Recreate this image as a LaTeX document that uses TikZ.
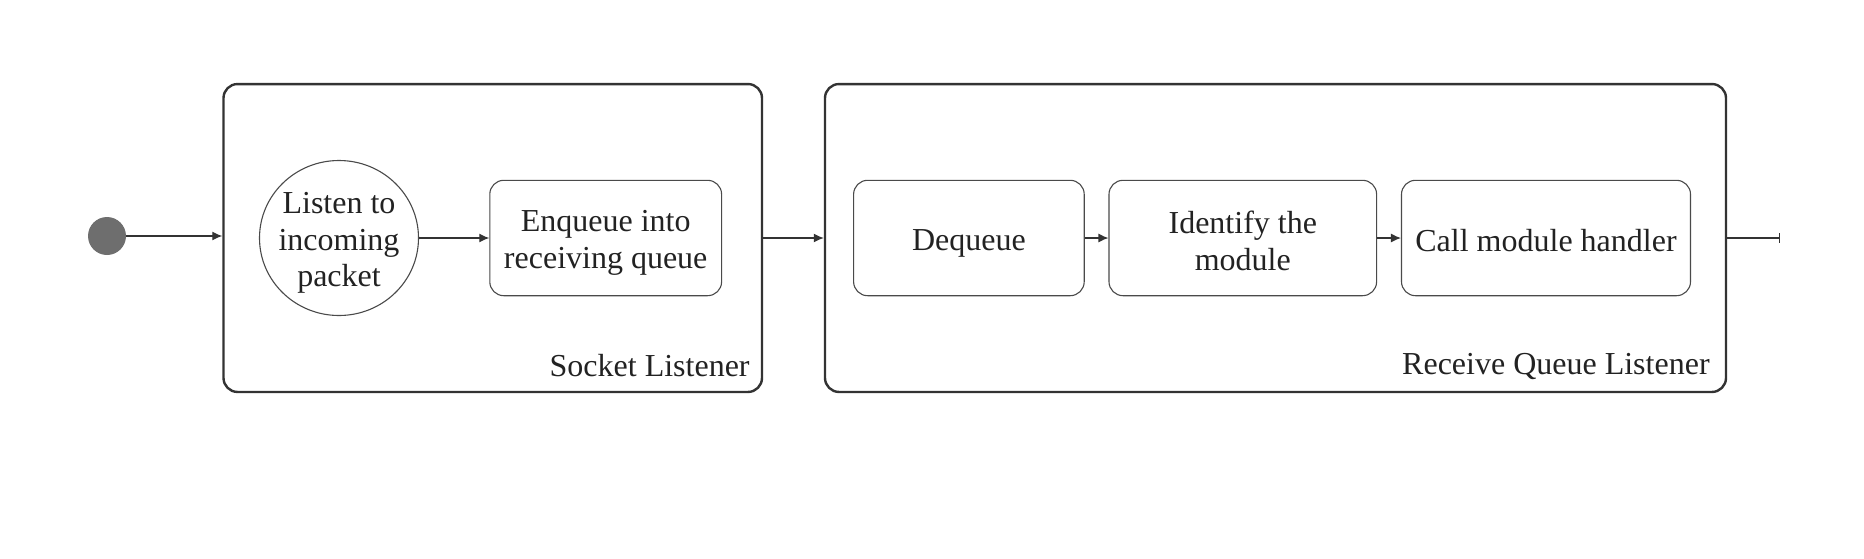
\documentclass[tikz,border=0pt]{standalone}
\usepackage{fontspec}
\setmainfont{Liberation Serif}
\usetikzlibrary{arrows.meta,shapes.geometric}
\definecolor{linec}{HTML}{333333}
\definecolor{thinc}{HTML}{4A4A4A}
\definecolor{startc}{HTML}{6E6E6E}
\definecolor{txtc}{HTML}{222222}
\begin{document}
\begin{tikzpicture}[x=0.5pt,y=-0.5pt,
  every node/.style={font=\fontsize{16pt}{18.4pt}\selectfont, text=txtc},
  group/.style={draw=linec, line width=1.2pt, rounded corners=7pt, minimum height=153.95pt, inner sep=0pt},
  actbox/.style={draw=thinc, line width=0.55pt, rounded corners=7pt, minimum height=57.7pt, inner sep=0pt},
  txt/.style={align=center, inner sep=0pt},
  conn/.style={draw=linec, line width=0.6pt, -{Latex[length=5pt,width=4.5pt]}},
  grouplabel/.style={anchor=east, inner sep=0pt}
]
\useasboundingbox (0,0) rectangle (1864,558);
\node[group, minimum width=269.25pt] (box1) at (492.75,238) {};
\node[group, minimum width=450.5pt] (box2) at (1275.5,238) {};
\node[circle, fill=startc, minimum size=19pt, inner sep=0pt] (start) at (107,236) {};
\node[ellipse, draw=thinc, line width=0.55pt, minimum width=79.5pt, minimum height=77.5pt, inner sep=0pt] (listen) at (339,238) {};
\node[actbox, minimum width=115.9pt] (enq) at (605.7,238) {};
\node[actbox, minimum width=115.3pt] (deq) at (968.9,238) {};
\node[actbox, minimum width=133.8pt] (ident) at (1242.8,238) {};
\node[actbox, minimum width=144.5pt] (call) at (1546,238) {};
\node[txt] (listent) at ([yshift=-2.5pt]listen.center) {Listen to\\incoming\\packet};
\node[txt] (enqt) at ([yshift=-2.5pt]enq.center) {Enqueue into\\receiving queue};
\node[txt] (deqt) at ([yshift=-2.5pt]deq.center) {Dequeue};
\node[txt] (identt) at ([yshift=-1.5pt]ident.center) {Identify the\\module};
\node[txt] (callt) at ([yshift=-1.5pt]call.center) {Call module handler};
\node[grouplabel] (lab1) at (750,366) {Socket Listener};
\node[grouplabel] (lab2) at (1710,366) {Receive Queue Listener};
\coordinate (endp) at (1780,238);
\draw[conn] (start.east) -- (box1.west |- start.east);
\draw[conn] (listen) -- (enq);
\draw[conn] (box1.east) -- (box2.west);
\draw[conn] (deq) -- (ident);
\draw[conn] (ident) -- (call);
\draw[draw=linec, line width=0.6pt, -{Bar[width=5pt]}] (box2.east) -- (endp);
\end{tikzpicture}
\end{document}
